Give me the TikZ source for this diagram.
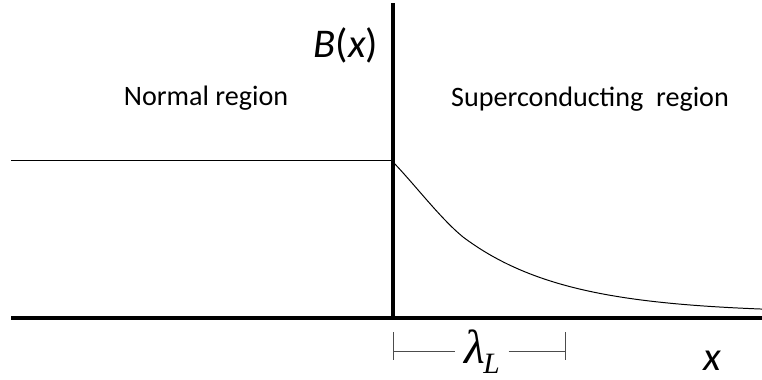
\documentclass[tikz,border=0pt]{standalone}
\usepackage{fontspec}
\setmainfont{Carlito}
\newfontfamily\tnr{Liberation Serif}

\begin{document}
\begin{tikzpicture}[x=0.025cm, y=-0.025cm,
  axis/.style={line width=2.2pt},
  field/.style={line width=0.7pt},
  brace/.style={line width=0.5pt, black!70},
  region/.style={anchor=base, font=\fontsize{20}{24}\selectfont},
  axlbl/.style={anchor=base, inner sep=0pt, font=\fontsize{29}{33}\selectfont\itshape}
]
  \useasboundingbox (0,0) rectangle (762,380);

  % Axes
  \coordinate (orig) at (393,318);
  \coordinate (xl)   at (11,318);
  \coordinate (xr)   at (762,318);
  \coordinate (yt)   at (393,3);
  \draw[axis] (xl) -- (xr);
  \draw[axis] (orig) -- (yt);

  % Field outside and inside
  \coordinate (b0) at (393,160);
  \coordinate (kink) at (463,237);
  \draw[field] (11,160) -- (b0);
  \draw[field] (393,162) .. controls (416,186) and (440,218) .. (kink)
    plot[domain=463:762, samples=60] (\x, {313-76*exp(-(\x-463)/101)});

  % Labels
  \node[axlbl] (bx) at (346,58) {B\upshape(\itshape x\upshape)};
  \node[axlbl] (xx) at (712,370) {x};
  \node[region] (nr) at (206,106) {Normal region};
  \node[region] (sr) at (590,107) {Superconducting\ \ region};

  % Penetration depth
  \node[font=\fontsize{34}{40}\selectfont\tnr\itshape, inner sep=6pt] (lam) at (482,352)
    {λ\kern-1pt\raisebox{-7pt}{\fontsize{21}{24}\selectfont L}};
  \coordinate (lo) at (393,351);
  \coordinate (hi) at (565,351);
  \draw[brace] (lo) ++(0,-19) -- ++(0,28);
  \draw[brace] (hi) ++(0,-19) -- ++(0,28);
  \draw[brace] (lo) -- (lo -| lam.west);
  \draw[brace] (lam.east |- hi) -- (hi);

\end{tikzpicture}
\end{document}
